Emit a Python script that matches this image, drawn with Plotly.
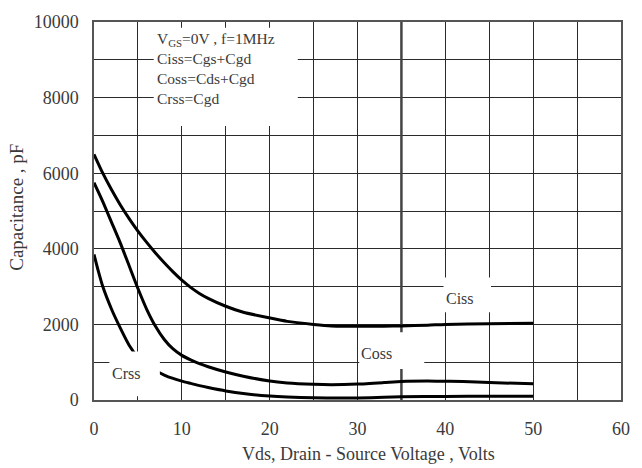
import plotly.graph_objects as go

# Data (Vds in volts, capacitance in pF)
ciss_x = [0, 1, 2, 3, 4, 5, 6, 7, 8, 9, 10, 11, 12, 13, 15, 17, 20, 22, 25, 27, 30, 33, 35, 38, 40, 45, 50]
ciss_y = [6500, 6000, 5560, 5160, 4800, 4470, 4170, 3890, 3630, 3390, 3170, 2980, 2820, 2690, 2480, 2320,
          2170, 2080, 2000, 1960, 1950, 1950, 1960, 1980, 2000, 2020, 2030]

coss_x = [0, 1, 2, 3, 4, 5, 6, 7, 8, 9, 10, 11, 12, 13, 15, 17, 20, 22, 25, 27, 30, 33, 35, 38, 40, 42, 45, 50]
coss_y = [5750, 5250, 4700, 4150, 3550, 2950, 2400, 1950, 1600, 1350, 1180, 1060, 960, 880, 740, 630,
          500, 450, 415, 405, 420, 460, 490, 500, 495, 490, 460, 430]

crss_x = [0, 0.5, 1, 2, 3, 4, 5, 6, 7, 8, 9, 10, 11, 12, 13, 15, 17, 20, 22, 25, 28, 30, 33, 35, 40, 45, 50]
crss_y = [3850, 3400, 3000, 2400, 1900, 1450, 1130, 920, 780, 660, 570, 500, 440, 380, 330, 240, 170,
          105, 80, 60, 50, 55, 70, 85, 95, 100, 100]

x_ticks = [0, 10, 20, 30, 40, 50, 60]
y_ticks = [0, 2000, 4000, 6000, 8000, 10000]
y_tick_text = ["0", "2000", "4000", "6000", "8000", "10000"]

note_lines = ["V<sub>GS</sub>=0V , f=1MHz", "Ciss=Cgs+Cgd", "Coss=Cds+Cgd", "Crss=Cgd"]

FONT = "Liberation Serif, Times New Roman, serif"
GRID = "#2a2a2a"
TXT = "#3a3a3a"

fig = go.Figure()
for xs, ys, name in [(ciss_x, ciss_y, "Ciss"), (coss_x, coss_y, "Coss"), (crss_x, crss_y, "Crss")]:
    fig.add_trace(go.Scatter(x=xs, y=ys, mode="lines", name=name,
                             line=dict(color="#000000", width=3, shape="spline", smoothing=0.6),
                             showlegend=False, hoverinfo="skip"))

# white label backgrounds (interrupt grid and curves as in the reference)
boxes = [
    (6.8, 23.2, 7250, 9850),
    (1.75, 7.5, 100, 1280),
    (30.2, 37.6, 820, 1790),
    (39.8, 45.2, 2320, 3240),
]
shapes = [dict(type="line", xref="x", yref="y", x0=35, x1=35, y0=0, y1=10000,
               line=dict(color="#444444", width=2.5), layer="between")]
for x0, x1, y0, y1 in boxes:
    shapes.append(dict(type="rect", xref="x", yref="y", x0=x0, x1=x1, y0=y0, y1=y1,
                       fillcolor="white", line=dict(width=0), layer="above"))

annotations = [
    dict(x=6.9, y=9850, xref="x", yref="y", xanchor="left", yanchor="top", align="left",
         text="<br>".join(note_lines), showarrow=False, font=dict(family=FONT, size=15.5, color=TXT)),
    dict(x=3.6, y=690, xref="x", yref="y", xanchor="center", text="Crss", showarrow=False,
         font=dict(family=FONT, size=16, color=TXT)),
    dict(x=32.2, y=1230, xref="x", yref="y", xanchor="center", text="Coss", showarrow=False,
         font=dict(family=FONT, size=16, color=TXT)),
    dict(x=41.7, y=2690, xref="x", yref="y", xanchor="center", text="Ciss", showarrow=False,
         font=dict(family=FONT, size=16, color=TXT)),
    dict(x=0.52, y=-0.143, xref="paper", yref="paper", xanchor="center", yanchor="middle",
         text="Vds, Drain - Source Voltage , Volts", showarrow=False,
         font=dict(family=FONT, size=18, color=TXT)),
    dict(x=-0.147, y=0.51, xref="paper", yref="paper", xanchor="center", yanchor="middle",
         textangle=-90, text="Capacitance , pF", showarrow=False,
         font=dict(family=FONT, size=19, color=TXT)),
]

fig.update_layout(
    width=642, height=468,
    margin=dict(l=94, r=12, t=15, b=68),
    paper_bgcolor="white", plot_bgcolor="white",
    shapes=shapes, annotations=annotations,
    xaxis=dict(range=[0, 60], tickvals=x_ticks, showgrid=True, gridcolor=GRID, gridwidth=1,
               minor=dict(dtick=5, showgrid=True, gridcolor=GRID, gridwidth=1),
               showline=True, linecolor="#555555", linewidth=1.5, mirror=True,
               ticks="outside", ticklen=12, tickcolor="rgba(0,0,0,0)",
               tickfont=dict(family=FONT, size=18, color=TXT), zeroline=False),
    yaxis=dict(range=[0, 10000], tickvals=y_ticks, ticktext=y_tick_text,
               showgrid=True, gridcolor=GRID, gridwidth=1,
               minor=dict(dtick=1000, showgrid=True, gridcolor=GRID, gridwidth=1),
               showline=True, linecolor="#555555", linewidth=1.5, mirror=True,
               ticks="outside", ticklen=10, tickcolor="rgba(0,0,0,0)",
               tickfont=dict(family=FONT, size=18, color=TXT), zeroline=False),
)

fig.write_html("out.html")
